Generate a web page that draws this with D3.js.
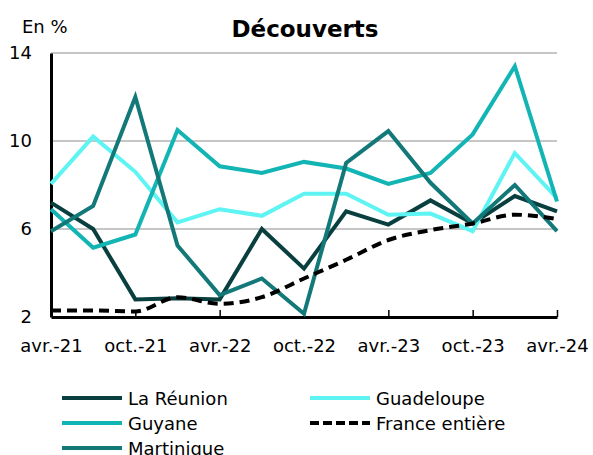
<!DOCTYPE html>
<html>
<head>
<meta charset="utf-8">
<script src="https://cdn.jsdelivr.net/npm/d3@7"></script>
<style>
  body { margin: 0; background: #fff; }
  text { font-family: "DejaVu Sans", Verdana, sans-serif; fill: #000; }
</style>
</head>
<body>
<svg id="draw" width="593" height="455"></svg>
<script>
// quarters shown on the x axis
var quarters = ["avr.-21", "juil.-21", "oct.-21", "janv.-22", "avr.-22", "juil.-22", "oct.-22",
                "janv.-23", "avr.-23", "juil.-23", "oct.-23", "janv.-24", "avr.-24"];
var tickLabels = ["avr.-21", "oct.-21", "avr.-22", "oct.-22", "avr.-23", "oct.-23", "avr.-24"];
var yTicks = [2, 6, 10, 14];

// series values (en %)
var reunion    = [7.2, 6.0, 2.8, 2.85, 2.8, 6.0, 4.2, 6.8, 6.2, 7.3, 6.25, 7.5, 6.8];
var guadeloupe = [8.05, 10.2, 8.6, 6.3, 6.9, 6.6, 7.6, 7.6, 6.65, 6.7, 5.9, 9.45, 7.4];
var guyane     = [6.9, 5.15, 5.75, 10.5, 8.85, 8.55, 9.05, 8.75, 8.05, 8.55, 10.3, 13.4, 7.25];
var martinique = [5.9, 7.05, 12.0, 5.25, 3.0, 3.75, 2.15, 9.0, 10.45, 8.1, 6.25, 8.0, 5.9];
var france     = [2.3, 2.3, 2.25, 2.9, 2.6, 2.9, 3.75, 4.6, 5.5, 5.95, 6.25, 6.65, 6.45];

var series = [
    { name: "La Réunion", values: reunion, color: "#0a3f3f", dash: null, smooth: false },
    { name: "Guadeloupe", values: guadeloupe, color: "#5ff4f4", dash: null, smooth: false },
    { name: "Guyane", values: guyane, color: "#12b4b4", dash: null, smooth: false },
    { name: "Martinique", values: martinique, color: "#127878", dash: null, smooth: false },
    { name: "France entière", values: france, color: "#000", dash: "10,6", smooth: true }
];

// ---------------------------------------------------------------------------

var svg = d3.select("#draw");
var plotLeft = 51, plotRight = 557, plotTop = 53, plotBottom = 317;

var x = d3.scalePoint().domain(quarters).range([plotLeft, plotRight]);
var y = d3.scaleLinear().domain([2, 14]).range([plotBottom, plotTop]);

// gridlines
svg.append("g")
    .selectAll("line")
    .data(yTicks.filter((d) => d > 2))
    .enter()
    .append("line")
    .attr("x1", plotLeft).attr("x2", plotRight)
    .attr("y1", (d) => y(d)).attr("y2", (d) => y(d))
    .attr("stroke", "#b3b3b3")
    .attr("stroke-width", 1.5);

// y axis
var yAxis = svg.append("g")
    .attr("transform", "translate(" + plotLeft + ",0)")
    .call(d3.axisLeft(y).tickValues(yTicks).tickSize(0).tickPadding(19));
yAxis.select(".domain").attr("stroke", "#000").attr("stroke-width", 3);
yAxis.selectAll("text").style("font-size", "18px").attr("fill", "#000");

// x axis
var xAxis = svg.append("g")
    .attr("transform", "translate(0," + plotBottom + ")")
    .call(d3.axisTop(x).tickValues(tickLabels).tickSizeInner(7).tickSizeOuter(0));
xAxis.select(".domain").attr("stroke", "#000").attr("stroke-width", 3);
xAxis.selectAll(".tick line").attr("stroke", "#000").attr("stroke-width", 1.5);
xAxis.selectAll("text")
    .attr("y", 35)
    .style("font-size", "18px")
    .attr("fill", "#000");

// lines
var lineStraight = d3.line()
    .x((d, i) => x(quarters[i]))
    .y((d) => y(d));
var lineSmooth = d3.line()
    .x((d, i) => x(quarters[i]))
    .y((d) => y(d))
    .curve(d3.curveMonotoneX);

svg.append("g")
    .selectAll("path")
    .data(series)
    .enter()
    .append("path")
    .attr("d", (d) => d.smooth ? lineSmooth(d.values) : lineStraight(d.values))
    .attr("fill", "none")
    .attr("stroke", (d) => d.color)
    .attr("stroke-width", 4)
    .attr("stroke-linejoin", "miter")
    .attr("stroke-dasharray", (d) => d.dash);

// title and unit
svg.append("text")
    .attr("x", 305).attr("y", 37)
    .attr("text-anchor", "middle")
    .style("font-size", "23px")
    .style("font-weight", "bold")
    .text("Découverts");
svg.append("text")
    .attr("x", 22).attr("y", 33)
    .style("font-size", "18px")
    .text("En %");

// legend
var legendOrder = [
    { s: series[0], col: 0, row: 0 },
    { s: series[1], col: 1, row: 0 },
    { s: series[2], col: 0, row: 1 },
    { s: series[4], col: 1, row: 1 },
    { s: series[3], col: 0, row: 2 }
];
var legend = svg.append("g")
    .selectAll("g")
    .data(legendOrder)
    .enter()
    .append("g")
    .attr("transform", (d) => "translate(" + (d.col ? 310 : 62) + "," + (398 + d.row * 25) + ")");
legend.append("line")
    .attr("x1", 0).attr("x2", 60)
    .attr("stroke", (d) => d.s.color)
    .attr("stroke-width", 4)
    .attr("stroke-dasharray", (d) => d.s.dash ? "9,4" : null);
legend.append("text")
    .attr("x", 66).attr("y", 6.5)
    .style("font-size", "18px")
    .text((d) => d.s.name);
</script>
</body>
</html>
